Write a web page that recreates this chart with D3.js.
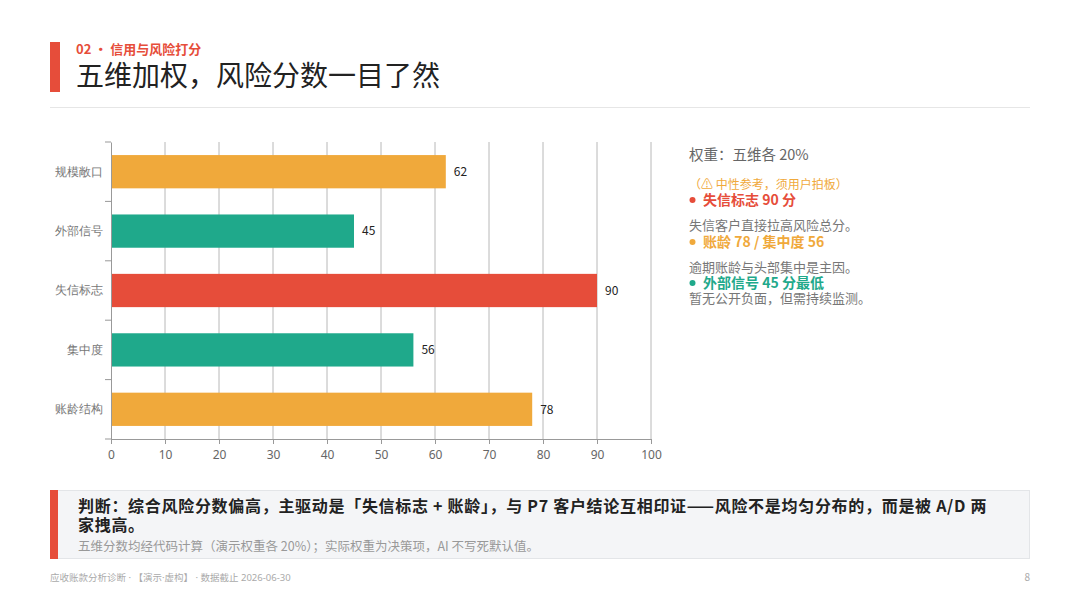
<!DOCTYPE html>
<html>
<head>
<meta charset="utf-8">
<script src="https://cdn.jsdelivr.net/npm/d3@7"></script>
<style>
  html, body { margin: 0; padding: 0; background: #fff; }
  svg { display: block; font-family: "Noto Sans CJK SC", "Noto Sans", sans-serif; }
</style>
</head>
<body>
<svg id="chart" width="1080" height="608"></svg>
<script>
// dimension names, top to bottom
var categories = ["规模敞口", "外部信号", "失信标志", "集中度", "账龄结构"];
// score per dimension
var scores = [62, 45, 90, 56, 78];
// x axis ticks
var xTicks = [0, 10, 20, 30, 40, 50, 60, 70, 80, 90, 100];

var orange = "#F0A93B", green = "#1FA98B", red = "#E64D3A";
var latinFirst = "'Noto Sans', 'Noto Sans CJK SC', sans-serif";

var svg = d3.select("#chart");

//header
svg.append("rect").attr("x", 50).attr("y", 42).attr("width", 10).attr("height", 50).attr("fill", red);
svg.append("text").attr("x", 76).attr("y", 54)
    .attr("font-size", 13).attr("font-weight", "bold").attr("fill", red)
    .text("02 • 信用与风险打分");
svg.append("text").attr("x", 76).attr("y", 86)
    .attr("font-size", 28).attr("fill", "#222")
    .text("五维加权，风险分数一目了然");
svg.append("line").attr("x1", 50).attr("x2", 1030).attr("y1", 107.5).attr("y2", 107.5)
    .attr("stroke", "#e6e6e6");

//bar chart
var x = d3.scaleLinear().domain([0, 100]).range([111, 651]);
var y = d3.scaleBand().domain(categories).range([142, 439]).paddingInner(0.44).paddingOuter(0.22);
var yTicks = d3.scaleBand().domain(categories).range([142, 439]);

var color = d3.scaleOrdinal()
    .domain(categories)
    .range([orange, green, red, green, orange]);

var g = svg.append("g");

//vertical gridlines
g.selectAll(".grid")
    .data(xTicks.slice(1))
    .enter().append("line")
    .attr("x1", function(d) { return x(d); })
    .attr("x2", function(d) { return x(d); })
    .attr("y1", 142).attr("y2", 439)
    .attr("stroke", "#b8b8b8").attr("stroke-width", 1);

//bars
g.selectAll(".bar")
    .data(categories)
    .enter().append("rect")
    .attr("x", x(0))
    .attr("y", function(d) { return y(d); })
    .attr("width", function(d, i) { return x(scores[i]) - x(0); })
    .attr("height", y.bandwidth())
    .attr("fill", function(d) { return color(d); });

//value labels
g.selectAll(".val")
    .data(categories)
    .enter().append("text")
    .attr("x", function(d, i) { return x(scores[i]) + 8; })
    .attr("y", function(d) { return y(d) + y.bandwidth() / 2; })
    .attr("dy", "0.35em")
    .attr("font-size", 12).attr("fill", "#222")
    .text(function(d, i) { return scores[i]; });

//x axis
var xAxis = g.append("g")
    .attr("transform", "translate(0,439)")
    .call(d3.axisBottom(x).tickValues(xTicks).tickSize(5).tickSizeOuter(0));
xAxis.select(".domain").attr("stroke", "#999");
xAxis.selectAll(".tick line").attr("stroke", "#999");
xAxis.selectAll("text").attr("font-size", 12).attr("fill", "#666")
    .attr("font-family", latinFirst).attr("dy", "1em");

//y axis
var yAxis = g.append("g")
    .attr("transform", "translate(111,0)")
    .call(d3.axisLeft(yTicks).tickSize(0).tickPadding(8));
yAxis.select(".domain").attr("stroke", "#999");
yAxis.selectAll("text").attr("font-size", 12).attr("fill", "#777");
//band boundary ticks on the left
g.selectAll(".ytick")
    .data(d3.range(categories.length + 1))
    .enter().append("line")
    .attr("x1", 105).attr("x2", 111)
    .attr("y1", function(i) { return 142 + i * yTicks.step(); })
    .attr("y2", function(i) { return 142 + i * yTicks.step(); })
    .attr("stroke", "#999");

//right notes
var notes = [
    { text: "权重：五维各 20%", y: 160, size: 14.5, color: "#666", bold: false, dot: false },
    { text: "（⚠ 中性参考，须用户拍板）", y: 189, size: 12, color: orange, bold: false, dot: false },
    { text: "失信标志 90 分", y: 205, size: 14, color: red, bold: true, dot: true },
    { text: "失信客户直接拉高风险总分。", y: 230, size: 13, color: "#777", bold: false, dot: false },
    { text: "账龄 78 / 集中度 56", y: 247, size: 14, color: orange, bold: true, dot: true },
    { text: "逾期账龄与头部集中是主因。", y: 272, size: 13, color: "#777", bold: false, dot: false },
    { text: "外部信号 45 分最低", y: 288, size: 14, color: green, bold: true, dot: true },
    { text: "暂无公开负面，但需持续监测。", y: 303, size: 13, color: "#777", bold: false, dot: false }
];
svg.selectAll(".note")
    .data(notes)
    .enter().append("text")
    .attr("x", function(d) { return d.dot ? 703 : 689; })
    .attr("y", function(d) { return d.y; })
    .attr("font-size", function(d) { return d.size; })
    .attr("font-weight", function(d) { return d.bold ? "bold" : "normal"; })
    .attr("fill", function(d) { return d.color; })
    .text(function(d) { return d.text; });
//small bullets
svg.selectAll(".dot")
    .data(notes.filter(function(d) { return d.dot; }))
    .enter().append("circle")
    .attr("cx", 692.5)
    .attr("cy", function(d) { return d.y - 5; })
    .attr("r", 3)
    .attr("fill", function(d) { return d.color; });

//conclusion box
svg.append("rect").attr("x", 50.5).attr("y", 490.5).attr("width", 979).attr("height", 68)
    .attr("fill", "#f4f5f7").attr("stroke", "#e3e5e8");
svg.append("rect").attr("x", 50).attr("y", 490).attr("width", 8).attr("height", 69).attr("fill", red);
var judge = svg.append("text").attr("font-size", 16).attr("font-weight", "bold").attr("fill", "#222")
    .attr("letter-spacing", 0.7);
judge.append("tspan").attr("x", 78).attr("y", 512)
    .text("判断：综合风险分数偏高，主驱动是「失信标志 + 账龄」，与 P7 客户结论互相印证——风险不是均匀分布的，而是被 A/D 两");
judge.append("tspan").attr("x", 78).attr("y", 531).text("家拽高。");
svg.append("text").attr("x", 78).attr("y", 551)
    .attr("font-size", 12.5).attr("fill", "#999")
    .text("五维分数均经代码计算（演示权重各 20%）；实际权重为决策项，AI 不写死默认值。");

//footer
svg.append("text").attr("x", 50).attr("y", 581)
    .attr("font-size", 9.5).attr("fill", "#aaa").attr("font-family", latinFirst)
    .text("应收账款分析诊断 · 【演示·虚构】 · 数据截止 2026-06-30");
svg.append("text").attr("x", 1030).attr("y", 581).attr("text-anchor", "end")
    .attr("font-size", 10).attr("fill", "#aaa")
    .text("8");
</script>
</body>
</html>
